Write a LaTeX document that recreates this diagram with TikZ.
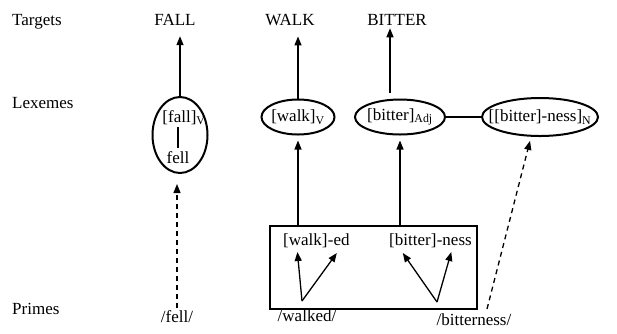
\documentclass[tikz,border=0pt]{standalone}
\usepackage{fontspec}
\setmainfont{Liberation Serif}
\usetikzlibrary{shapes.geometric,arrows.meta}

\begin{document}
\begin{tikzpicture}
	[x=1pt, y=-1pt, font=\fontsize{17}{20}\selectfont,
	every node/.style={inner sep=0pt},
	lex/.style={ellipse,draw,line width=2pt,minimum height=35pt},
	link/.style={line width=1.3pt},
	arr/.style={link,-{Triangle[length=9pt,width=7pt]}},
	darr/.style={arr,dash pattern=on 5pt off 4pt}]
	\useasboundingbox (0,0) rectangle (617,333);
	% row labels
	\node (targets) [anchor=base west] at (12,25) {Targets};
	\node (lexemes) [anchor=base west] at (12,108) {Lexemes};
	\node (primes) [anchor=base west] at (12,314) {Primes};
	% targets
	\node (FALL) [anchor=base] at (175,25) {FALL};
	\node (WALK) [anchor=base] at (290,25) {WALK};
	\node (BITTER) [anchor=base] at (397,25) {BITTER};
	% lexemes
	\node (fallx) [lex, minimum width=55pt, minimum height=76pt] at (180,135) {};
	\node (fallv) [anchor=base] at (184,122) {[fall]\textsubscript{V}};
	\node (fell) [anchor=base] at (178,163) {fell};
	\node (walkx) [lex, minimum width=73pt,
		label=center:{[walk]\textsubscript{V}}] at (298,117) {};
	\node (bitterx) [lex, minimum width=90pt,
		label=center:{[bitter]\textsubscript{Adj}}] at (400,117) {};
	\node (nessx) [lex, minimum width=116pt, minimum height=38pt,
		label=center:{[[bitter]-ness]\textsubscript{N}}] at (540,117) {};
	% primes
	\node (primebox) [draw, line width=1.1pt, minimum width=207pt, minimum height=83pt] at (373.5,267.5) {};
	\node (wstem) [anchor=base west] at (283,245) {[walk]};
	\node (wsuf) [anchor=base west] at (wstem.base east) {-ed};
	\node (bstem) [anchor=base west] at (389,245) {[bitter]};
	\node (bsuf) [anchor=base west] at (bstem.base east) {-ness};
	\coordinate (wfork) at (302,301);
	\coordinate (bfork) at (437,302);
	\node (pfell) [anchor=base] at (177,322) {/fell/};
	\node (pwalked) [anchor=base] at (307,321) {/walked/};
	\node (pbitter) [anchor=base] at (474,325) {/bitterness/};
	% connectors
	\draw [arr, shorten >=11pt] (fallx.north) -- (fallx.north |- FALL.south);
	\draw [arr, shorten >=11pt] (walkx.north) -- (walkx.north |- WALK.south);
	\draw [arr, shorten <=6pt, shorten >=3pt] ([xshift=-10pt]bitterx.north) -- ([xshift=-10pt]bitterx.north |- BITTER.south);
	\draw [link, shorten <=2pt, shorten >=3pt] (fell.north |- fallv.south) -- (fell.north);
	\draw [link] (bitterx) -- (nessx);
	\draw [arr, shorten >=5pt] (walkx.south |- primebox.north) -- (walkx.south);
	\draw [arr, shorten >=5pt] (bitterx.south |- primebox.north) -- (bitterx.south);
	\draw [arr] (wfork) -- ([xshift=-8pt,yshift=-7pt]wstem.base);
	\draw [arr] (wfork) -- ([xshift=-2pt,yshift=-8pt]wsuf.base);
	\draw [arr] (bfork) -- ([xshift=-10pt,yshift=-8pt]bstem.base);
	\draw [arr] (bfork) -- ([xshift=-3pt,yshift=-7pt]bsuf.base);
	\draw [darr, shorten <=2pt, shorten >=10pt] (pfell.north) -- (pfell.north |- fallx.south);
	\draw [darr, shorten >=4pt] ([xshift=13pt,yshift=4pt]pbitter.north) -- ([xshift=-9pt]nessx.south);
\end{tikzpicture}
\end{document}
